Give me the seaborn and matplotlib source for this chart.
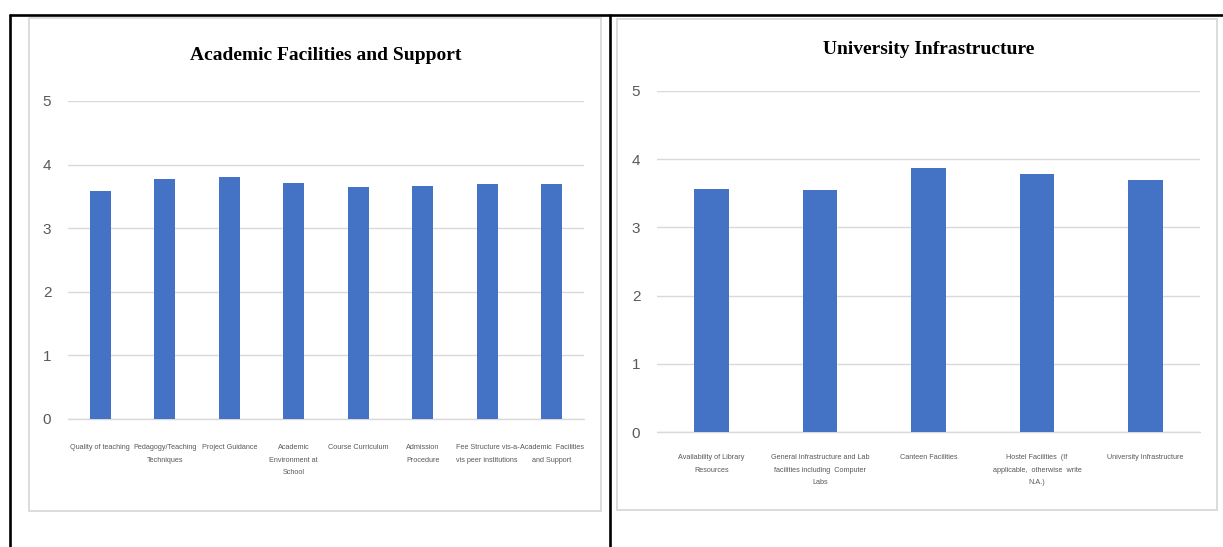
import matplotlib
matplotlib.use("Agg")
import matplotlib.pyplot as plt
import seaborn as sns
from matplotlib import font_manager
from matplotlib.lines import Line2D
from matplotlib.patches import Rectangle

# --- data ---
academic_labels = [
    "Quality of teaching",
    "Pedagogy/Teaching\nTechniques",
    "Project Guidance",
    "Academic\nEnvironment at\nSchool",
    "Course Curriculum",
    "Admission\nProcedure",
    "Fee Structure vis-a-\nvis peer institutions",
    "Academic  Facilities\nand Support",
]
academic_scores = [3.58, 3.77, 3.80, 3.71, 3.64, 3.67, 3.69, 3.69]

infra_labels = [
    "Availability of Library\nResources",
    "General Infrastructure and Lab\nfacilities including  Computer\nLabs",
    "Canteen Facilities",
    "Hostel Facilities  (If\napplicable,  otherwise  write\nN.A.)",
    "University Infrastructure",
]
infra_scores = [3.56, 3.55, 3.87, 3.79, 3.70]

yticks = [0, 1, 2, 3, 4, 5]

BAR = "#4472C4"
GRID = "#D9D9D9"
TXT = "#595959"

sns.set_style("white")
available = {f.name for f in font_manager.fontManager.ttflist}
narrow = "Liberation Sans Narrow" in available
tick_font = "Liberation Sans Narrow" if narrow else "Liberation Sans"
plt.rcParams["font.family"] = [tick_font, "DejaVu Sans"]

W, H = 1223, 547
fig = plt.figure(figsize=(W / 100, H / 100), dpi=100)


def px_rect(x0, y0, x1, y1):
    # pixel box (top-left origin) -> figure fraction [left, bottom, width, height]
    return [x0 / W, 1 - y1 / H, (x1 - x0) / W, (y1 - y0) / H]


# outer table-like black borders
for xs, ys in [([10 / W, 1.0], [1 - 15 / H] * 2),
               ([10 / W] * 2, [0, 1 - 15 / H]),
               ([610 / W] * 2, [0, 1 - 15 / H])]:
    fig.add_artist(Line2D(xs, ys, color="black", lw=1.9, transform=fig.transFigure))

# light chart-area frames
for box in [(29, 18, 601, 511), (617, 19, 1217, 510)]:
    l, b, w, h = px_rect(*box)
    fig.add_artist(Rectangle((l, b), w, h, transform=fig.transFigure,
                             facecolor="white", edgecolor=GRID, lw=1.3, zorder=0))

panels = [
    (academic_labels, academic_scores, (68, 101, 584, 419), 18, "Academic Facilities and Support", 55),
    (infra_labels, infra_scores, (657, 91, 1200, 432), 16, "University Infrastructure", 50),
]

for labels, scores, box, xpad, title, title_y in panels:
    ax = fig.add_axes(px_rect(*box))
    sns.barplot(x=labels, y=scores, ax=ax, color=BAR, saturation=1,
                width=0.32, linewidth=0)
    ax.set_ylim(0, 5)
    ax.set_yticks(yticks)
    ax.yaxis.grid(True, color=GRID, lw=1.0)
    ax.axhline(0, color=GRID, lw=1.0, zorder=0.5, clip_on=False)
    ax.set_axisbelow(True)
    for s in ax.spines.values():
        s.set_visible(False)
    ax.set_xlabel("")
    ax.set_ylabel("")
    ax.tick_params(axis="y", length=0, pad=12, labelsize=12 if narrow else 11, labelcolor=TXT)
    ax.tick_params(axis="x", length=0, pad=xpad, labelsize=5.8 if narrow else 5.2, labelcolor=TXT)
    for t in ax.get_xticklabels():
        t.set_linespacing(2.1)
    ax.set_facecolor("none")
    cx = (box[0] + box[2]) / 2
    fig.text(cx / W, 1 - title_y / H, title, ha="center", va="center",
             family="Liberation Serif", fontweight="bold", fontsize=14, color="black")

fig.savefig("out.png", dpi=100)
